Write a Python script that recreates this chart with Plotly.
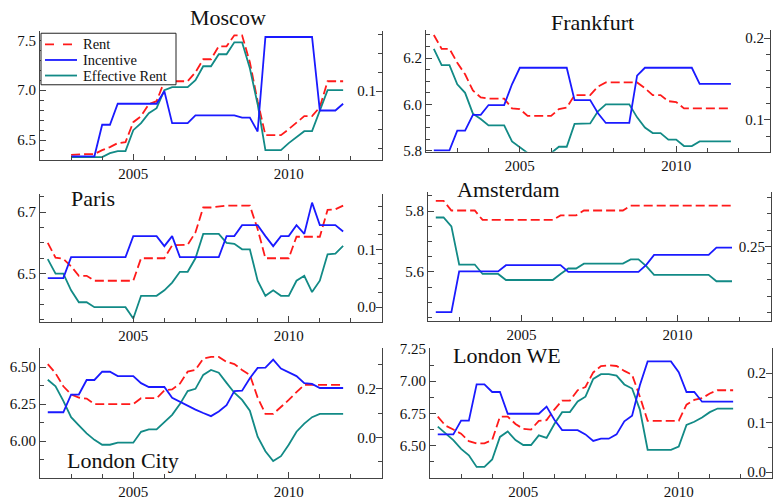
import plotly.graph_objects as go

# ---------------- data (quarterly) ----------------
moscow_start = 2003.0
moscow_rent = [6.353, 6.36, 6.36, 6.36, 6.40, 6.43, 6.47, 6.48, 6.68, 6.74, 6.86, 6.89,
               7.09, 7.09, 7.09, 7.09, 7.18, 7.31, 7.31, 7.44, 7.44, 7.55, 7.55, 7.28,
               6.89, 6.55, 6.55, 6.55, 6.61, 6.68, 6.74, 6.74, 6.83, 7.09, 7.09, 7.09]
moscow_eff = [6.33, 6.33, 6.33, 6.33, 6.33, 6.37, 6.39, 6.39, 6.60, 6.67, 6.77, 6.82,
              7.00, 7.03, 7.03, 7.03, 7.10, 7.24, 7.24, 7.36, 7.36, 7.48, 7.48, 7.22,
              6.86, 6.40, 6.40, 6.40, 6.47, 6.53, 6.59, 6.59, 6.80, 7.00, 7.00, 7.00]
moscow_inc = [0.0315, 0.0315, 0.0315, 0.0315, 0.0647, 0.0647, 0.0868, 0.0868, 0.0868, 0.0868,
              0.0868, 0.0868, 0.100, 0.0664, 0.0664, 0.0664, 0.0746, 0.0746, 0.0746, 0.0746,
              0.0746, 0.0746, 0.0722, 0.0722, 0.0576, 0.157, 0.157, 0.157, 0.157, 0.157,
              0.157, 0.157, 0.0797, 0.0797, 0.0797, 0.0868]

frankfurt_start = 2002.25
frankfurt_rent = [6.30, 6.24, 6.24, 6.18, 6.13, 6.06, 6.03, 6.025, 6.025, 6.025, 5.983, 5.98,
                  5.95, 5.95, 5.95, 5.95, 5.98, 5.986, 6.04, 6.04, 6.04, 6.077, 6.095, 6.095,
                  6.095, 6.095, 6.095, 6.07, 6.04, 6.04, 6.014, 6.01, 5.983, 5.983, 5.983,
                  5.983, 5.983, 5.983, 5.983]
frankfurt_eff = [6.24, 6.17, 6.17, 6.087, 6.05, 5.96, 5.937, 5.909, 5.909, 5.909, 5.84, 5.817,
                 5.79, 5.79, 5.79, 5.79, 5.817, 5.817, 5.916, 5.916, 5.918, 5.97, 6.0, 6.0,
                 6.0, 6.0, 5.944, 5.90, 5.876, 5.876, 5.848, 5.848, 5.82, 5.82, 5.84, 5.84,
                 5.84, 5.84, 5.84]
frankfurt_inc = [0.0625, 0.0625, 0.0625, 0.0867, 0.0867, 0.106, 0.106, 0.118, 0.118, 0.118,
                 0.1435, 0.1637, 0.1637, 0.1637, 0.1637, 0.1637, 0.1637, 0.1637, 0.124, 0.124,
                 0.124, 0.108, 0.096, 0.096, 0.096, 0.096, 0.154, 0.1637, 0.1637, 0.1637,
                 0.1637, 0.1637, 0.1637, 0.1637, 0.144, 0.144, 0.144, 0.144, 0.144]

paris_start = 2002.25
paris_rent = [6.60, 6.552, 6.548, 6.524, 6.493, 6.493, 6.477, 6.477, 6.477, 6.477, 6.477, 6.477,
              6.55, 6.55, 6.55, 6.55, 6.592, 6.592, 6.594, 6.634, 6.715, 6.715, 6.718, 6.721,
              6.721, 6.721, 6.721, 6.645, 6.55, 6.55, 6.55, 6.55, 6.62, 6.62, 6.62, 6.62,
              6.707, 6.709, 6.721]
paris_eff = [6.547, 6.5, 6.5, 6.446, 6.407, 6.407, 6.391, 6.391, 6.391, 6.391, 6.391, 6.354,
             6.428, 6.428, 6.428, 6.446, 6.471, 6.506, 6.506, 6.55, 6.629, 6.629, 6.629, 6.60,
             6.597, 6.579, 6.579, 6.477, 6.428, 6.446, 6.428, 6.428, 6.477, 6.493, 6.44,
             6.477, 6.563, 6.565, 6.59]
paris_inc = [0.0503, 0.0503, 0.0503, 0.0866, 0.0866, 0.0866, 0.0866, 0.0866, 0.0866, 0.0866,
             0.0866, 0.123, 0.123, 0.123, 0.123, 0.1056, 0.123, 0.0866, 0.0866, 0.0866,
             0.0866, 0.0866, 0.0866, 0.123, 0.123, 0.142, 0.142, 0.142, 0.123, 0.1056, 0.123,
             0.123, 0.142, 0.127, 0.181, 0.142, 0.142, 0.142, 0.131]

amsterdam_start = 2002.25
amsterdam_rent = [5.834, 5.834, 5.802, 5.802, 5.802, 5.802, 5.771, 5.771, 5.771, 5.771, 5.771,
                  5.771, 5.771, 5.771, 5.771, 5.771, 5.786, 5.786, 5.786, 5.802, 5.802, 5.802,
                  5.802, 5.802, 5.802, 5.818, 5.818, 5.818, 5.818, 5.818, 5.818, 5.818, 5.818,
                  5.818, 5.818, 5.818, 5.818, 5.818, 5.818]
amsterdam_eff = [5.779, 5.779, 5.75, 5.624, 5.624, 5.624, 5.593, 5.593, 5.593, 5.573, 5.573,
                 5.573, 5.573, 5.573, 5.573, 5.573, 5.593, 5.611, 5.611, 5.627, 5.627, 5.627,
                 5.627, 5.627, 5.627, 5.641, 5.641, 5.619, 5.59, 5.59, 5.59, 5.59, 5.59, 5.59,
                 5.59, 5.59, 5.569, 5.569, 5.569]
amsterdam_inc = [0.2104, 0.2104, 0.2104, 0.235, 0.235, 0.235, 0.235, 0.235, 0.235, 0.2388,
                 0.2388, 0.2388, 0.2388, 0.2388, 0.2388, 0.2388, 0.2388, 0.2347, 0.2347, 0.2347,
                 0.2347, 0.2347, 0.2347, 0.2347, 0.2347, 0.2347, 0.2347, 0.239, 0.245, 0.245,
                 0.245, 0.245, 0.245, 0.245, 0.245, 0.245, 0.2494, 0.2494, 0.2494]

londoncity_start = 2002.25
londoncity_rent = [6.52, 6.458, 6.37, 6.316, 6.294, 6.287, 6.25, 6.25, 6.25, 6.25, 6.25, 6.25,
                   6.29, 6.29, 6.29, 6.342, 6.349, 6.388, 6.469, 6.48, 6.557, 6.568, 6.568,
                   6.535, 6.52, 6.48, 6.447, 6.294, 6.184, 6.184, 6.228, 6.278, 6.331, 6.38,
                   6.38, 6.38, 6.38, 6.38, 6.38]
londoncity_eff = [6.414, 6.37, 6.272, 6.162, 6.107, 6.053, 6.009, 5.976, 5.976, 5.99, 5.99,
                  5.99, 6.063, 6.079, 6.079, 6.129, 6.178, 6.25, 6.338, 6.353, 6.447, 6.48,
                  6.462, 6.393, 6.327, 6.278, 6.206, 6.03, 5.932, 5.866, 5.899, 5.976, 6.064,
                  6.118, 6.162, 6.184, 6.184, 6.184, 6.184]
londoncity_inc = [0.104, 0.104, 0.104, 0.177, 0.177, 0.237, 0.237, 0.271, 0.271, 0.253, 0.253,
                  0.253, 0.224, 0.208, 0.208, 0.208, 0.164, 0.147, 0.131, 0.115, 0.101, 0.088,
                  0.107, 0.133, 0.191, 0.193, 0.244, 0.287, 0.288, 0.321, 0.284, 0.268, 0.253,
                  0.224, 0.221, 0.204, 0.204, 0.204, 0.204]

londonwe_start = 2002.25
londonwe_rent = [6.725, 6.655, 6.625, 6.593, 6.535, 6.518, 6.518, 6.543, 6.725, 6.725, 6.668,
                 6.63, 6.625, 6.693, 6.698, 6.78, 6.85, 6.85, 6.93, 6.955, 7.068, 7.118, 7.123,
                 7.118, 7.08, 7.05, 6.88, 6.693, 6.693, 6.693, 6.693, 6.693, 6.818, 6.855,
                 6.868, 6.905, 6.93, 6.93, 6.93]
londonwe_eff = [6.648, 6.593, 6.543, 6.475, 6.425, 6.335, 6.335, 6.393, 6.568, 6.61, 6.543,
                6.505, 6.505, 6.58, 6.56, 6.668, 6.76, 6.76, 6.843, 6.88, 7.018, 7.055, 7.055,
                7.043, 6.975, 6.943, 6.78, 6.468, 6.468, 6.468, 6.468, 6.493, 6.66, 6.685,
                6.718, 6.76, 6.788, 6.788, 6.788]
londonwe_inc = [0.0762, 0.0762, 0.0762, 0.104, 0.104, 0.1775, 0.1775, 0.162, 0.162, 0.118,
                0.118, 0.118, 0.118, 0.118, 0.1325, 0.106, 0.0848, 0.0848, 0.0848, 0.0762,
                0.0629, 0.0675, 0.0675, 0.0762, 0.1026, 0.1139, 0.1755, 0.2238, 0.2238, 0.2238,
                0.2238, 0.202, 0.162, 0.162, 0.1424, 0.1424, 0.1424, 0.1424, 0.1424]

series_names = ["Rent", "Incentive", "Effective Rent"]


def quarters(start, n):
    return [start + 0.25 * i for i in range(n)]


# ---------------- layout / styling per panel ----------------
W, H = 778, 502
panels = [
    dict(title="Moscow", start=moscow_start, rent=moscow_rent, eff=moscow_eff, inc=moscow_inc,
         xpx=(40, 382), ypx=(25, 157), lrange=(6.305, 7.59), ldt=0.5, l0=6.5, lminor=0.1, lfmt=".1f",
         rrange=(0.028, 0.163), rdt=0.1, r0=0, rminor=0.02, rfmt=".1f", tpos=(228, 11)),
    dict(title="Frankfurt", start=frankfurt_start, rent=frankfurt_rent, eff=frankfurt_eff, inc=frankfurt_inc,
         xpx=(426, 770), ypx=(24, 149), lrange=(5.795, 6.32), ldt=0.2, l0=5.8, lminor=0.05, lfmt=".1f",
         rrange=(0.0606, 0.2096), rdt=0.1, r0=0, rminor=0.02, rfmt=".1f", tpos=(592, 16)),
    dict(title="Paris", start=paris_start, rent=paris_rent, eff=paris_eff, inc=paris_inc,
         xpx=(40, 382), ypx=(192, 324), lrange=(6.343, 6.76), ldt=0.2, l0=6.5, lminor=0.05, lfmt=".1f",
         rrange=(-0.0256, 0.1965), rdt=0.1, r0=0, rminor=0.025, rfmt=".1f", tpos=(93, 197)),
    dict(title="Amsterdam", start=amsterdam_start, rent=amsterdam_rent, eff=amsterdam_eff, inc=amsterdam_inc,
         xpx=(428, 771), ypx=(190, 323), lrange=(5.438, 5.864), ldt=0.2, l0=5.6, lminor=0.05, lfmt=".1f",
         rrange=(0.205, 0.2833), rdt=0.05, r0=0, rminor=0.01, rfmt=".2f", tpos=(508, 188)),
    dict(title="London City", start=londoncity_start, rent=londoncity_rent, eff=londoncity_eff, inc=londoncity_inc,
         xpx=(40, 382), ypx=(351, 484), lrange=(5.755, 6.627), ldt=0.25, l0=6.0, lminor=0.125, lfmt=".2f",
         rrange=(-0.165, 0.368), rdt=0.2, r0=0, rminor=0.1, rfmt=".1f", tpos=(123, 466)),
    dict(title="London WE", start=londonwe_start, rent=londonwe_rent, eff=londonwe_eff, inc=londonwe_inc,
         xpx=(430, 772), ypx=(351, 484), lrange=(6.253, 7.256), ldt=0.25, l0=6.5, lminor=0.125, lfmt=".2f",
         rrange=(-0.011, 0.2506), rdt=0.1, r0=0, rminor=0.05, rfmt=".1f", tpos=(507, 358)),
]

RED, BLUE, TEAL = "#ff1a1a", "#1a1aff", "#128a86"
AX = "#444444"
FONT = "Liberation Serif, Times New Roman, serif"
LW = 1.8
RENT_DASH = "9px,4px"

fig = go.Figure()
layout = dict(width=W, height=H, margin=dict(l=0, r=0, t=0, b=0),
              paper_bgcolor="white", plot_bgcolor="white",
              font=dict(family=FONT, size=14, color="#111"),
              showlegend=False, annotations=[], shapes=[])

for i, p in enumerate(panels):
    n = i + 1
    xname = "x" if n == 1 else f"x{n}"
    yl = 2 * i + 1
    yr = 2 * i + 2
    ylname = "y" if yl == 1 else f"y{yl}"
    yrname = f"y{yr}"
    t = quarters(p["start"], len(p["rent"]))
    fig.add_trace(go.Scatter(x=t, y=p["rent"], xaxis=xname, yaxis=ylname, mode="lines",
                             name=series_names[0], line=dict(color=RED, width=LW, dash=RENT_DASH)))
    fig.add_trace(go.Scatter(x=t, y=p["inc"], xaxis=xname, yaxis=yrname, mode="lines",
                             name=series_names[1], line=dict(color=BLUE, width=LW)))
    fig.add_trace(go.Scatter(x=t, y=p["eff"], xaxis=xname, yaxis=ylname, mode="lines",
                             name=series_names[2], line=dict(color=TEAL, width=LW)))

    x0, x1 = p["xpx"]
    ytop, ybot = p["ypx"]
    xdom = [x0 / W, x1 / W]
    ydom = [1 - ybot / H, 1 - ytop / H]
    xkey = "xaxis" if n == 1 else f"xaxis{n}"
    ylkey = "yaxis" if yl == 1 else f"yaxis{yl}"
    yrkey = f"yaxis{yr}"

    layout[xkey] = dict(domain=xdom, anchor=ylname, range=[2002, 2013],
                        showline=True, linecolor=AX, linewidth=1, mirror=False,
                        showgrid=False, zeroline=False,
                        tickmode="linear", tick0=2005, dtick=5, ticks="inside",
                        ticklen=6, tickcolor=AX, tickwidth=1,
                        tickfont=dict(family=FONT, size=15, color="#111"),
                        minor=dict(ticks="inside", tick0=2002, dtick=1, ticklen=4,
                                   tickcolor=AX, showgrid=False))
    layout[ylkey] = dict(domain=ydom, anchor=xname, range=list(p["lrange"]),
                         showline=True, linecolor=AX, linewidth=1, mirror=True,
                         showgrid=False, zeroline=False,
                         tickmode="linear", tick0=p["l0"], dtick=p["ldt"], tickformat=p["lfmt"],
                         ticks="inside", ticklen=6, tickcolor=AX,
                         tickfont=dict(family=FONT, size=15, color="#111"),
                         minor=dict(ticks="inside", tick0=p["l0"], dtick=p["lminor"], ticklen=4,
                                    tickcolor=AX, showgrid=False))
    layout[yrkey] = dict(overlaying=ylname, side="right", anchor=xname, range=list(p["rrange"]),
                         showline=True, linecolor=AX, linewidth=1,
                         showgrid=False, zeroline=False,
                         tickmode="linear", tick0=p["r0"], dtick=p["rdt"], tickformat=p["rfmt"],
                         ticks="inside", ticklen=6, tickcolor=AX,
                         ticklabelposition="inside", ticklabeloverflow="allow",
                         tickfont=dict(family=FONT, size=15, color="#111"),
                         minor=dict(ticks="inside", tick0=p["r0"], dtick=p["rminor"], ticklen=4,
                                    tickcolor=AX, showgrid=False))
    tx, ty = p["tpos"]
    layout["annotations"].append(dict(text=p["title"], x=tx / W, y=1 - ty / H, xref="paper", yref="paper",
                                      xanchor="center", yanchor="middle", showarrow=False,
                                      font=dict(family=FONT, size=22, color="#111")))

# ---------------- legend box (inside the Moscow panel) ----------------
LEG_BOX = (41, 27, 176, 80)          # left, top, right, bottom in px
LEG_ROWS = [38.5, 54.5, 70.5]        # row centres in px
LEG_LINE_X = (45, 77)
LEG_TEXT_X = 82
leg_styles = [dict(color=RED, width=LW, dash="dash"), dict(color=BLUE, width=LW), dict(color=TEAL, width=LW)]

layout["shapes"].append(dict(type="rect", xref="paper", yref="paper", layer="above",
                             x0=LEG_BOX[0] / W, x1=LEG_BOX[2] / W,
                             y0=1 - LEG_BOX[3] / H, y1=1 - LEG_BOX[1] / H,
                             fillcolor="white", line=dict(color="#222", width=1)))
for name, ry, st in zip(series_names, LEG_ROWS, leg_styles):
    layout["shapes"].append(dict(type="line", xref="paper", yref="paper", layer="above",
                                 x0=LEG_LINE_X[0] / W, x1=LEG_LINE_X[1] / W,
                                 y0=1 - ry / H, y1=1 - ry / H, line=st))
    layout["annotations"].append(dict(text=name, x=LEG_TEXT_X / W, y=1 - ry / H, xref="paper", yref="paper",
                                      xanchor="left", yanchor="middle", showarrow=False, borderpad=0,
                                      font=dict(family=FONT, size=14.5, color="#111")))

fig.update_layout(**layout)
fig.write_html("out.html", config={"displayModeBar": False},
               post_script="document.body.style.margin='0px';")
